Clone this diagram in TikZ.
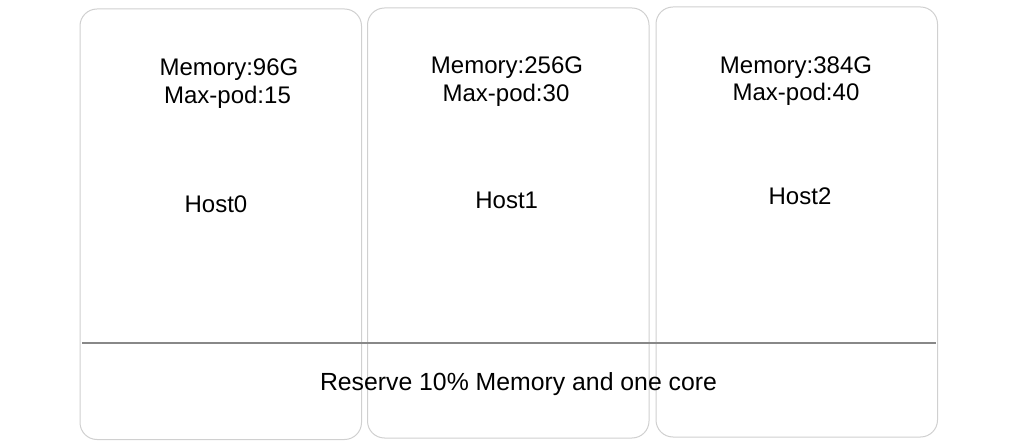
\documentclass[tikz,border=0pt]{standalone}
\usepackage{fontspec}
\setmainfont{Liberation Sans}
\usetikzlibrary{positioning}

\definecolor{boxgray}{HTML}{D0D0D0}
\definecolor{linegray}{HTML}{888888}

\tikzset{
  hostbox/.style={draw=boxgray, line width=1pt, rounded corners=17pt},
  reserveline/.style={draw=linegray, line width=1.8pt},
  hosttext/.style={anchor=base, inner sep=0pt, font=\fontsize{24}{28}\selectfont}
}

\begin{document}
\begin{tikzpicture}[x=1pt,y=-1pt]
  \useasboundingbox (0,0) rectangle (1015,446);
  % the three hosts
  \draw[hostbox] (80,9) rectangle (361.5,439.5);
  \draw[hostbox] (367.5,8) rectangle (649,438);
  \draw[hostbox] (656,7) rectangle (937.5,437);
  % reserved part
  \coordinate (resleft) at (82,342.7);
  \coordinate (resright) at (936,342.7);
  \draw[reserveline] (resleft) -- (resright);
  \node[hosttext] (mem0) at (229,75.7) {Memory:96G};
  \node[hosttext] (pod0) at (227.5,103.3) {Max-pod:15};
  \node[hosttext] (host0) at (216,212.7) {Host0};
  \node[hosttext] (mem1) at (507,74) {Memory:256G};
  \node[hosttext] (pod1) at (506,101.5) {Max-pod:30};
  \node[hosttext] (host1) at (506.7,208.5) {Host1};
  \node[hosttext] (mem2) at (796,73.5) {Memory:384G};
  \node[hosttext] (pod2) at (796,101) {Max-pod:40};
  \node[hosttext] (host2) at (800,204.3) {Host2};
  \node[hosttext, font=\fontsize{24.8}{28}\selectfont] (reserve) at (518.5,390.7) {Reserve 10\% Memory and one core};
\end{tikzpicture}
\end{document}
